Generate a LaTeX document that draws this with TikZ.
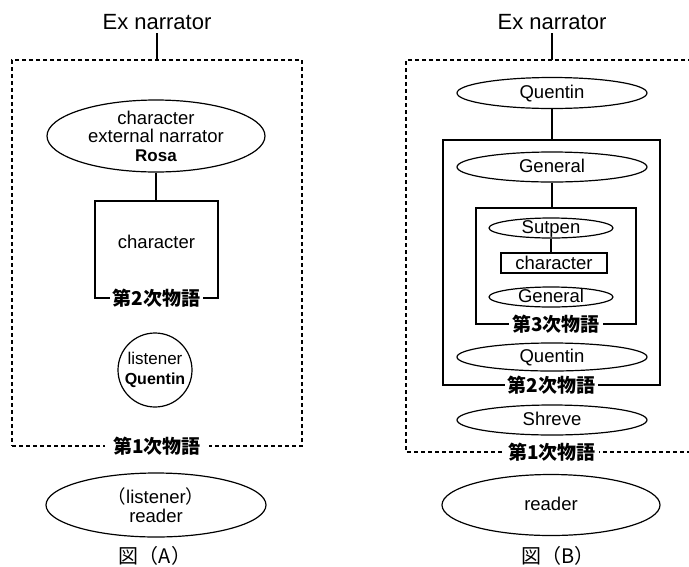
\documentclass[tikz,border=0pt]{standalone}
\usepackage{fontspec}
\setmainfont{Liberation Sans}
\newfontfamily\cjk{Noto Sans CJK JP}
\usetikzlibrary{shapes.geometric,positioning}
\tikzset{
  role/.style={
    draw=black,
    ellipse,
    line width=1.2pt,
    inner sep=0pt,
    align=center,
    fill=white,
    font=\fontsize{18.5}{18.5}\selectfont
  },
  onerow/.style={text height=10pt, text depth=0pt},
  word/.style={inner sep=0pt, font=\fontsize{18.5}{18.5}\selectfont},
  level/.style={draw=black, line width=1.2pt, inner sep=0pt},
  outer/.style={draw=black, line width=1.1pt, dash pattern=on 4pt off 3pt, inner sep=0pt},
  lvltag/.style={fill=white, inner xsep=3pt, inner ysep=1pt, font=\cjk\bfseries\fontsize{19}{19}\selectfont},
  hdr/.style={font=\fontsize{22}{22}\selectfont},
  figcap/.style={font=\cjk\fontsize{20}{20}\selectfont},
  tie/.style={draw=black, line width=1.2pt},
}

\begin{document}
\begin{tikzpicture}[x=1pt, y=-1pt]
  \useasboundingbox (0,0) rectangle (689,566);

  % figure (A)
  \node[hdr] (exA) at (157,22) {Ex narrator};
  \node[outer, minimum width=290pt, minimum height=386pt] (frame1A) at (157,253) {};
  \draw[tie] (exA.south) -- (exA.south |- frame1A.north);
  \node[role, minimum width=218pt, minimum height=72pt] (rosa) at (156,136)
    {character\\external narrator\\{\bfseries\fontsize{17}{18.5}\selectfont Rosa}};
  \node[level, minimum width=123pt, minimum height=97pt] (frame2A) at (156.5,249.5) {};
  \node[word] (chrA) at (156.5,242) {character};
  \draw[tie] (rosa.south) -- (rosa.south |- frame2A.north);
  \node[lvltag] (tag2A) at (frame2A.south) {第2次物語};
  \node[role, circle, minimum size=74pt, font=\fontsize{17}{20}\selectfont] (listen) at (155,370)
    {listener\\{\bfseries\fontsize{16}{20}\selectfont Quentin}};
  \node[lvltag, inner xsep=8pt] (tag1A) at (frame1A.south) {第1次物語};
  \node[role, minimum width=220pt, minimum height=64pt] (readA) at (156,505)
    {{\cjk （}listener{\cjk ）}\\reader};
  \node[figcap] (capA) at (155,556) {図（A）};

  % figure (B)
  \node[hdr] (exB) at (552,22) {Ex narrator};
  \coordinate (topB) at (552,60);
  \draw[outer] (692,60) -- (406,60) -- (406,452) -- (692,452);
  \draw[tie] (exB.south) -- (topB);
  \node[role, onerow, minimum width=190pt, minimum height=31pt] (quentB) at (552,93) {Quentin};
  \node[level, minimum width=217pt, minimum height=245pt] (frame2B) at (551.5,262.5) {};
  \draw[tie] (quentB.south) -- (quentB.south |- frame2B.north);
  \node[role, onerow, minimum width=190pt, minimum height=30pt] (genB) at (552,167) {General};
  \node[level, minimum width=160pt, minimum height=116pt] (frame3B) at (556,266) {};
  \draw[tie] (genB.south) -- (genB.south |- frame3B.north);
  \node[role, onerow, minimum width=124pt, minimum height=20pt] (sutB) at (551,228) {Sutpen};
  \node[level, word, minimum width=106pt, minimum height=20pt] (chrB) at (554,263) {character};
  \draw[tie] (sutB.south) -- (sutB.south |- chrB.north);
  \node[role, onerow, minimum width=124pt, minimum height=20pt] (gen2B) at (551,297) {General};
  \node[lvltag] (tag3B) at (frame3B.south) {第3次物語};
  \node[role, onerow, minimum width=190pt, minimum height=28pt] (quent2B) at (552,357) {Quentin};
  \node[lvltag] (tag2B) at (frame2B.south) {第2次物語};
  \node[role, onerow, minimum width=190pt, minimum height=30pt] (shreB) at (552,420) {Shreve};
  \node[lvltag] (tag1B) at (552,452) {第1次物語};
  \node[role, onerow, minimum width=218pt, minimum height=61pt] (readB) at (551,505) {reader};
  \node[figcap] (capB) at (558,556) {図（B）};
\end{tikzpicture}
\end{document}
